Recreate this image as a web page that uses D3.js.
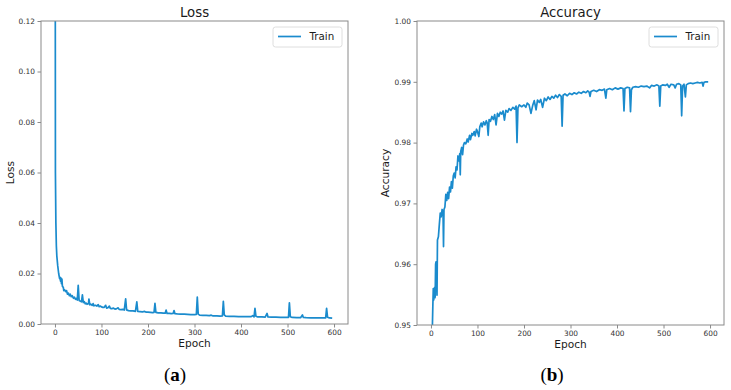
<!DOCTYPE html>
<html>
<head>
<meta charset="utf-8">
<script src="https://cdn.jsdelivr.net/npm/d3@7/dist/d3.min.js"></script>
<style>
	body { margin: 0; background: #ffffff; }
	svg { display: block; font-family: 'DejaVu Sans', sans-serif; }
</style>
</head>
<body>
<svg id="chart" width="731" height="390"></svg>
<script>
// values
const lossEpochs = [
	0, 1, 2, 3, 4, 6, 8, 10, 11, 12, 13, 14, 15, 16, 18, 19, 21, 23, 25, 27, 29, 31, 33, 35, 37, 40, 42, 44, 46, 48,
	50, 52, 55, 57, 59, 61, 63, 65, 67, 69, 72, 73, 75, 77, 80, 82, 84, 87, 90, 93, 95, 98, 100, 103, 106, 109, 111,
	114, 117, 119, 122, 126, 129, 133, 136, 138, 142, 146, 149, 152, 154, 158, 163, 168, 173, 176, 178, 183, 188, 193,
	196, 200, 205, 210, 213, 215, 217, 222, 228, 233, 237, 239, 241, 246, 250, 254, 256, 258, 263, 270, 278, 285, 292,
	300, 304, 306, 308, 311, 318, 325, 332, 336, 340, 348, 355, 360, 362, 364, 367, 375, 385, 395, 405, 415, 422, 425,
	428, 430, 432, 436, 445, 452, 456, 458, 465, 475, 485, 495, 502, 504, 506, 510, 520, 528, 532, 534, 540, 550, 560,
	570, 578, 582, 584, 586, 590, 596
];
const lossValues = [
	0.30, 0.06, 0.04, 0.031, 0.027, 0.023, 0.020, 0.018, 0.0185, 0.017, 0.0182, 0.016, 0.0178, 0.015, 0.0145, 0.0132,
	0.0135, 0.0128, 0.0132, 0.0118, 0.0122, 0.0112, 0.0118, 0.0108, 0.0112, 0.0102, 0.0106, 0.0098, 0.0101, 0.0095,
	0.0153, 0.0093, 0.0090, 0.0088, 0.0115, 0.0085, 0.0089, 0.0080, 0.0083, 0.0078, 0.0080, 0.0099, 0.0076, 0.0079,
	0.0074, 0.0081, 0.0072, 0.0074, 0.0071, 0.0077, 0.0069, 0.0071, 0.0068, 0.0066, 0.0066, 0.0074, 0.0063, 0.0065,
	0.0071, 0.0062, 0.0061, 0.0063, 0.0059, 0.0061, 0.0064, 0.0058, 0.0057, 0.0058, 0.0055, 0.0100, 0.0056, 0.0053,
	0.0052, 0.0052, 0.0050, 0.0088, 0.0050, 0.0049, 0.0048, 0.0050, 0.0047, 0.0047, 0.0046, 0.0045, 0.0046, 0.0082,
	0.0046, 0.0044, 0.0044, 0.0043, 0.0043, 0.0055, 0.0042, 0.0042, 0.0041, 0.0042, 0.0053, 0.0041, 0.0040, 0.0039,
	0.0039, 0.0038, 0.0037, 0.0037, 0.0038, 0.0107, 0.0039, 0.0035, 0.0034, 0.0034, 0.0033, 0.0035, 0.0032, 0.0032,
	0.0031, 0.0032, 0.0090, 0.0036, 0.0031, 0.0030, 0.0030, 0.0029, 0.0029, 0.0029, 0.0029, 0.0033, 0.0028, 0.0062,
	0.0031, 0.0028, 0.0028, 0.0027, 0.0042, 0.0028, 0.0027, 0.0027, 0.0026, 0.0026, 0.0026, 0.0084, 0.0029, 0.0026,
	0.0025, 0.0025, 0.0036, 0.0026, 0.0025, 0.0024, 0.0024, 0.0024, 0.0024, 0.0024, 0.0062, 0.0027, 0.0024, 0.0023
];
const accuracyEpochs = [
	0, 3, 4, 5, 6, 7, 8, 9, 10, 11, 12, 13, 14, 16, 18, 20, 22, 24, 26, 27, 28, 30, 32, 34, 36, 38, 40, 42, 44, 46, 48,
	50, 52, 54, 56, 58, 60, 62, 63, 64, 66, 68, 70, 72, 75, 78, 80, 83, 85, 88, 90, 93, 95, 98, 100, 103, 105, 108, 110,
	113, 116, 119, 121, 123, 125, 128, 131, 134, 137, 140, 143, 146, 149, 152, 155, 158, 161, 165, 168, 172, 176, 180,
	183, 185, 187, 190, 195, 200, 204, 207, 211, 215, 219, 222, 226, 229, 233, 236, 240, 244, 248, 252, 256, 260, 264,
	268, 272, 276, 280, 282, 284, 288, 293, 298, 303, 308, 313, 318, 323, 328, 333, 337, 340, 342, 344, 350, 356, 362,
	368, 373, 376, 378, 384, 390, 396, 402, 408, 413, 415, 417, 422, 427, 429, 431, 434, 440, 446, 452, 458, 464, 470,
	474, 480, 486, 490, 492, 494, 498, 504, 508, 512, 516, 522, 525, 528, 533, 537, 539, 541, 544, 547, 549, 553, 558,
	563, 568, 573, 578, 583, 585, 587, 591, 596
];
const accuracyValues = [
	0.930, 0.9495, 0.9530, 0.9560, 0.9541, 0.9558, 0.9562, 0.9545, 0.9600, 0.9604, 0.9590, 0.9549, 0.9640, 0.9645,
	0.9665, 0.9684, 0.9678, 0.9690, 0.9682, 0.9629, 0.9690, 0.9694, 0.9715, 0.9705, 0.9718, 0.9708, 0.9727, 0.9719,
	0.9736, 0.9725, 0.9745, 0.9750, 0.9742, 0.9760, 0.9755, 0.9778, 0.9770, 0.9782, 0.9747, 0.9785, 0.9792, 0.9780,
	0.9796, 0.9800, 0.9798, 0.9806, 0.9801, 0.9812, 0.9805, 0.9815, 0.9812, 0.9818, 0.9811, 0.9822, 0.9818, 0.9810,
	0.9826, 0.9832, 0.9826, 0.9834, 0.9829, 0.9836, 0.9832, 0.9812, 0.9838, 0.9835, 0.9843, 0.9838, 0.9846, 0.9829,
	0.9848, 0.9843, 0.9850, 0.9847, 0.9852, 0.9837, 0.9853, 0.9850, 0.9856, 0.9853, 0.9858, 0.9855, 0.9860, 0.9800,
	0.9857, 0.9862, 0.9859, 0.9862, 0.9858, 0.9865, 0.9862, 0.9848, 0.9862, 0.9869, 0.9854, 0.9870, 0.9866, 0.9871,
	0.9858, 0.9873, 0.9869, 0.9875, 0.9871, 0.9876, 0.9873, 0.9878, 0.9874, 0.9879, 0.9876, 0.9827, 0.9878, 0.9880,
	0.9877, 0.9881, 0.9879, 0.9882, 0.9880, 0.9883, 0.9881, 0.9884, 0.9882, 0.9885, 0.9883, 0.9876, 0.9884, 0.9886,
	0.9884, 0.9887, 0.9886, 0.9888, 0.9873, 0.9887, 0.9889, 0.9887, 0.9890, 0.9888, 0.9890, 0.9889, 0.9852, 0.9889,
	0.9891, 0.9890, 0.9851, 0.9887, 0.9891, 0.9892, 0.9891, 0.9893, 0.9892, 0.9893, 0.9890, 0.9894, 0.9893, 0.9895,
	0.9893, 0.9860, 0.9893, 0.9895, 0.9894, 0.9896, 0.9891, 0.9896, 0.9895, 0.9890, 0.9896, 0.9897, 0.9895, 0.9844,
	0.9893, 0.9896, 0.9875, 0.9895, 0.9897, 0.9898, 0.9897, 0.9898, 0.9899, 0.9898, 0.9899, 0.9893, 0.9899, 0.9900,
	0.9900
];
const epochTicks = [ 0, 100, 200, 300, 400, 500, 600 ];
const lossTicks = [ 0, 0.02, 0.04, 0.06, 0.08, 0.10, 0.12 ];
const accuracyTicks = [ 0.95, 0.96, 0.97, 0.98, 0.99, 1.00 ];
const legendLabels = [ 'Train' ];

const TrainingPlot = {
	lineColour: '#1a8bcd',
	spineColour: '#8a8a8a',
	textColour: '#333333',

	render: function(svgEl, settings) {
		const self = TrainingPlot;
		let svg = d3.select(svgEl);
		let [ left, top, right, bottom ] = settings.box;
		let data = settings.epochs.map((e, i) => [ e, settings.values[i] ]);

		let xScale = d3.scaleLinear()
			.domain([ -30, 630 ])
			.range([ left, right ]);
		let yScale = d3.scaleLinear()
			.domain(settings.yDomain)
			.range([ bottom, top ]);
		let line = d3.line()
			.x(d => xScale(d[0]))
			.y(d => yScale(d[1]));

		let group = svg.append('g');

		group.append('clipPath')
			.attr('id', settings.id + '-clip')
			.append('rect')
			.attr('x', left).attr('y', top)
			.attr('width', right - left).attr('height', bottom - top);

		group.append('path')
			.datum(data)
			.attr('d', line)
			.attr('clip-path', 'url(#' + settings.id + '-clip)')
			.style('fill', 'none')
			.style('stroke', self.lineColour)
			.style('stroke-width', 1.7)
			.style('stroke-linejoin', 'round');

		// axes
		let xAxis = d3.axisBottom(xScale)
			.tickValues(epochTicks)
			.tickSize(3.5)
			.tickPadding(2.5)
			.tickFormat(d3.format('d'));
		let yAxis = d3.axisLeft(yScale)
			.tickValues(settings.yTicks)
			.tickSize(3.5)
			.tickPadding(2.5)
			.tickFormat(d3.format('.2f'));

		group.append('g')
			.attr('transform', 'translate(0,' + bottom + ')')
			.call(xAxis);
		group.append('g')
			.attr('transform', 'translate(' + left + ',0)')
			.call(yAxis);

		group.selectAll('.domain').remove();
		group.selectAll('.tick line').style('stroke', self.spineColour);
		group.selectAll('.tick text')
			.style('font-family', 'DejaVu Sans')
			.style('font-size', '7.4px')
			.style('fill', self.textColour);

		group.append('rect')
			.attr('x', left).attr('y', top)
			.attr('width', right - left).attr('height', bottom - top)
			.style('fill', 'none')
			.style('stroke', self.spineColour)
			.style('stroke-width', 1);

		// titles
		let centreX = (left + right) / 2;
		group.append('text')
			.attr('x', centreX).attr('y', top - 4.5)
			.attr('text-anchor', 'middle')
			.style('font-size', '13.3px')
			.style('fill', '#1a1a1a')
			.text(settings.title);
		group.append('text')
			.attr('x', centreX).attr('y', bottom + 23)
			.attr('text-anchor', 'middle')
			.style('font-size', '10.6px')
			.style('fill', '#1a1a1a')
			.text('Epoch');
		group.append('text')
			.attr('transform', 'translate(' + settings.yLabelX + ',' + ((top + bottom) / 2) + ') rotate(-90)')
			.attr('text-anchor', 'middle')
			.style('font-size', '10.6px')
			.style('fill', '#1a1a1a')
			.text(settings.yLabel);

		// legend
		let legendRight = right - 6;
		let legendLeft = legendRight - 69;
		group.append('rect')
			.attr('x', legendLeft).attr('y', top + 6)
			.attr('width', legendRight - legendLeft).attr('height', 20)
			.attr('rx', 2.5)
			.style('fill', '#ffffff')
			.style('stroke', '#d6d6d6')
			.style('stroke-width', 0.8);
		group.append('line')
			.attr('x1', legendLeft + 5).attr('x2', legendLeft + 28)
			.attr('y1', top + 15.5).attr('y2', top + 15.5)
			.style('stroke', self.lineColour)
			.style('stroke-width', 1.7);
		group.append('text')
			.attr('x', legendLeft + 36.5).attr('y', top + 19.3)
			.style('font-size', '10.3px')
			.style('fill', '#1a1a1a')
			.text(legendLabels[0]);

		// caption
		let caption = svg.append('text')
			.attr('x', settings.captionX).attr('y', 381)
			.attr('text-anchor', 'middle')
			.style('font-family', 'Liberation Serif, serif')
			.style('font-size', '19px')
			.style('fill', '#000000');
		caption.append('tspan').text('(');
		caption.append('tspan').style('font-weight', 'bold').text(settings.caption);
		caption.append('tspan').text(')');
	}
};

let svgEl = document.getElementById('chart');

TrainingPlot.render(svgEl, {
	id: 'loss',
	box: [ 41, 21, 348, 324 ],
	epochs: lossEpochs,
	values: lossValues,
	yDomain: [ 0, 0.12 ],
	yTicks: lossTicks,
	title: 'Loss',
	yLabel: 'Loss',
	yLabelX: 14,
	caption: 'a',
	captionX: 175
});
TrainingPlot.render(svgEl, {
	id: 'accuracy',
	box: [ 417, 21, 724, 325 ],
	epochs: accuracyEpochs,
	values: accuracyValues,
	yDomain: [ 0.95, 1.00 ],
	yTicks: accuracyTicks,
	title: 'Accuracy',
	yLabel: 'Accuracy',
	yLabelX: 389,
	caption: 'b',
	captionX: 552
});
</script>
</body>
</html>
